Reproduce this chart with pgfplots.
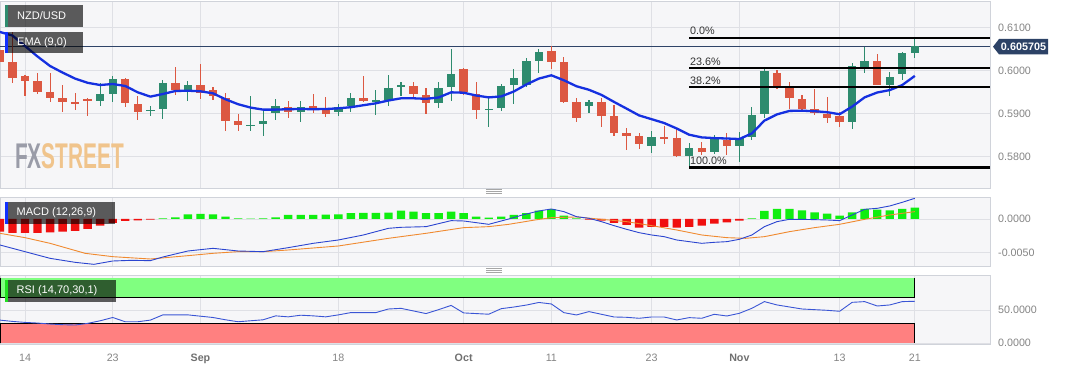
\documentclass[border=0pt]{standalone}
\usepackage{fontspec}
\setmainfont{Liberation Sans}
\usepackage{pgfplots}
\usepackage{pgfplotstable}
\pgfplotsset{compat=1.18}

\definecolor{panelbg}{HTML}{F6F6F8}
\definecolor{gridc}{HTML}{DFE0E5}
\definecolor{borderc}{HTML}{D0D3DA}
\definecolor{labelc}{HTML}{858585}
\definecolor{boldlab}{HTML}{707070}
\definecolor{cgreen}{HTML}{2E8B6E}
\definecolor{cred}{HTML}{DC5842}
\definecolor{emablue}{HTML}{1530E0}
\definecolor{pricec}{HTML}{2F4468}
\definecolor{tagc}{HTML}{2C4266}
\definecolor{hgreen}{HTML}{10EE10}
\definecolor{hred}{HTML}{F01010}
\definecolor{macdc}{HTML}{2B45D0}
\definecolor{sigc}{HTML}{F08A30}
\definecolor{rsic}{HTML}{3A55D5}
\definecolor{obc}{HTML}{80FF80}
\definecolor{osc}{HTML}{FF8080}
\definecolor{fxgray}{HTML}{9A9CA8}
\definecolor{fxorange}{HTML}{F0C48C}
\definecolor{fibtext}{HTML}{333333}
\definecolor{stripblue}{HTML}{1030FF}
\definecolor{striprsi}{HTML}{20E020}

% red candles: i open high low close
\pgfplotstableread{
i o h l c
-2 0.60481 0.61179 0.60109 0.60202
-1 0.60202 0.60900 0.59714 0.59830
0 0.59877 0.59900 0.59418 0.59760
1 0.59760 0.59953 0.59458 0.59511
2 0.59511 0.59939 0.59279 0.59372
3 0.59365 0.59667 0.59046 0.59272
4 0.59272 0.59488 0.59086 0.59225
5 0.59342 0.59358 0.58946 0.59295
8 0.59800 0.59823 0.59163 0.59242
9 0.59225 0.59418 0.58853 0.59046
12 0.59721 0.60079 0.59428 0.59551
14 0.59667 0.60167 0.59342 0.59474
15 0.59551 0.59614 0.59318 0.59411
16 0.59372 0.59488 0.58598 0.58837
17 0.58830 0.58986 0.58598 0.58730
21 0.59163 0.59302 0.58893 0.59046
23 0.59179 0.59451 0.59009 0.59086
24 0.59109 0.59381 0.58916 0.58986
27 0.59358 0.59877 0.59279 0.59295
31 0.59651 0.59744 0.59395 0.59458
32 0.59435 0.59591 0.58986 0.59242
35 0.60032 0.60070 0.59435 0.59511
36 0.59451 0.59744 0.58870 0.59086
42 0.60458 0.60574 0.60039 0.60209
43 0.60195 0.60325 0.59242 0.59279
44 0.59272 0.59358 0.58814 0.58893
46 0.59279 0.59358 0.58698 0.58953
47 0.58946 0.59202 0.58481 0.58558
48 0.58544 0.58674 0.58156 0.58488
49 0.58481 0.58558 0.58172 0.58295
51 0.58451 0.58714 0.58288 0.58428
52 0.58428 0.58637 0.58005 0.58016
54 0.58209 0.58349 0.58039 0.58102
56 0.58388 0.58544 0.58039 0.58249
60 0.59939 0.60016 0.59567 0.59628
61 0.59591 0.59744 0.59109 0.59358
62 0.59335 0.59435 0.59070 0.59102
63 0.59102 0.59567 0.58970 0.59009
64 0.58986 0.59381 0.58777 0.58893
65 0.58946 0.59046 0.58698 0.58814
68 0.60225 0.60388 0.59660 0.59667
}\redc

% green candles: i open high low close
\pgfplotstableread{
i o h l c
6 0.59302 0.59707 0.59179 0.59458
7 0.59458 0.59877 0.59272 0.59800
10 0.59074 0.59179 0.58946 0.59098
11 0.59102 0.59784 0.58870 0.59707
13 0.59551 0.59767 0.59302 0.59667
18 0.58725 0.59411 0.58605 0.58744
19 0.58753 0.59063 0.58481 0.58837
20 0.59009 0.59342 0.58853 0.59179
22 0.59046 0.59295 0.58800 0.59163
25 0.59046 0.59218 0.58946 0.59163
26 0.59179 0.59474 0.59046 0.59358
28 0.59295 0.59551 0.58970 0.59311
29 0.59318 0.59900 0.59186 0.59605
30 0.59628 0.59744 0.59411 0.59660
33 0.59242 0.59730 0.59125 0.59605
34 0.59614 0.60498 0.59302 0.59923
37 0.59102 0.59358 0.58698 0.59116
38 0.59125 0.59691 0.59063 0.59651
39 0.59667 0.60032 0.59225 0.59837
40 0.59667 0.60288 0.59628 0.60225
41 0.60225 0.60498 0.59939 0.60442
45 0.59186 0.59318 0.59009 0.59265
50 0.58249 0.58598 0.58079 0.58451
53 0.58016 0.58311 0.57750 0.58195
55 0.58116 0.58505 0.58063 0.58405
57 0.58249 0.58581 0.57870 0.58428
58 0.58451 0.59163 0.58388 0.58977
59 0.58993 0.60032 0.58900 0.59993
66 0.58814 0.60172 0.58637 0.60109
67 0.60093 0.60558 0.59953 0.60225
69 0.59667 0.59977 0.59411 0.59860
70 0.59916 0.60442 0.59784 0.60405
71 0.60405 0.60767 0.60288 0.60571
}\greenc

\pgfplotstableread{
i ema
-2 0.60900
-1 0.60818
0 0.60574
1 0.60330
2 0.60109
3 0.59956
4 0.59816
5 0.59718
6 0.59667
7 0.59691
8 0.59644
9 0.59497
10 0.59397
11 0.59458
12 0.59528
13 0.59535
14 0.59521
15 0.59474
16 0.59335
17 0.59221
18 0.59142
19 0.59095
20 0.59095
21 0.59105
22 0.59109
23 0.59105
24 0.59109
25 0.59125
26 0.59151
27 0.59197
28 0.59242
29 0.59307
30 0.59358
31 0.59358
32 0.59346
33 0.59377
34 0.59497
35 0.59488
36 0.59423
37 0.59379
38 0.59402
39 0.59516
40 0.59679
41 0.59816
42 0.59893
43 0.59777
44 0.59639
45 0.59556
46 0.59437
47 0.59274
48 0.59118
49 0.58960
50 0.58872
51 0.58783
52 0.58656
53 0.58511
54 0.58449
55 0.58432
56 0.58423
57 0.58411
58 0.58542
59 0.58839
60 0.58984
61 0.59065
62 0.59070
63 0.59058
64 0.59035
65 0.58988
66 0.59165
67 0.59381
68 0.59493
69 0.59549
70 0.59667
71 0.59879
}\emat

\pgfplotstableread{
i v
-2 -0.0019
-1 -0.0021
0 -0.0021
1 -0.0021
2 -0.0020
3 -0.0019
4 -0.0018
5 -0.0015
6 -0.0010
7 -0.0006
8 -0.0003
9 -0.0002
10 -0.0001
45 -0.0001
46 -0.00025
47 -0.0006
48 -0.0009
49 -0.0013
50 -0.0012
51 -0.0012
52 -0.0013
53 -0.0012
54 -0.0010
55 -0.0007
56 -0.0005
57 -0.00025
}\histneg

\pgfplotstableread{
i v
11 0.0001
12 0.00025
13 0.0007
14 0.00076
15 0.0007
16 0.00035
17 0.0001
18 0.00005
19 0.0001
20 0.00025
21 0.0006
22 0.0006
23 0.0006
24 0.00066
25 0.0007
26 0.00086
27 0.0009
28 0.0009
29 0.00096
30 0.00126
31 0.0011
32 0.00086
33 0.00086
34 0.0011
35 0.00086
36 0.00035
37 0.0002
38 0.00035
39 0.0006
40 0.00086
41 0.00126
42 0.00146
43 0.0005
44 0.0001
58 0.0001
59 0.0012
60 0.0015
61 0.0015
62 0.0013
63 0.0010
64 0.0008
65 0.0005
66 0.0010
67 0.0015
68 0.0014
69 0.0013
70 0.0015
71 0.0017
}\histpos

\pgfplotstableread{
i v
-2 -0.0039
0 -0.0049
2 -0.0059
4 -0.0065
5.5 -0.0068
7 -0.0063
8.5 -0.0062
10 -0.00625
11 -0.0057
13 -0.0048
15 -0.0044
17 -0.0048
19 -0.0049
21 -0.0043
23 -0.00365
25 -0.00315
27 -0.0024
29 -0.0014
30 -0.00125
32 -0.00115
34 -0.00025
35 -0.0003
37 -0.0008
38.6 0.0
39.7 0.0006
41 0.0012
42 0.0015
43 0.0011
44 0.00035
45 0.0001
46 -0.0004
47 -0.001
48 -0.00155
49 -0.00205
50 -0.0024
51 -0.00265
52 -0.00315
53 -0.0034
54 -0.00365
55 -0.0035
56 -0.0034
57 -0.00305
58 -0.0024
59 -0.00115
60 -0.0004
61 -0.00005
62 -0.00005
63 -0.0001
64 -0.00015
65 -0.00025
66 0.0006
67 0.00145
68 0.0016
69 0.00195
70 0.0025
71 0.0031
}\macdt

\pgfplotstableread{
i v
-2 -0.00215
0 -0.0028
2 -0.00365
4.8 -0.00515
7 -0.00565
10 -0.0060
13 -0.0055
15 -0.00515
17 -0.0049
19 -0.0049
21 -0.00465
25 -0.00405
29 -0.0029
32 -0.00215
35 -0.0013
37 -0.00115
38.6 -0.0008
40.7 -0.00015
42 0.0002
44 0.0003
46 -0.00005
48 -0.0004
50 -0.0010
52 -0.00165
54 -0.0024
56 -0.0028
57.5 -0.0029
59 -0.00265
61 -0.0019
63 -0.0013
65 -0.0008
67 -0.00005
69 0.0006
71 0.0011
}\sigt

\pgfplotstableread{
i v
-2 35
-1 33
0 31.5
1 30.5
2 29
3 28
4 27.5
5 30
6 34
7 39
8 32.5
9 32.5
10 35
11 43
12 43
13 43
14 41
15 39
16 35.5
17 32.5
18 34
19 35.5
20 41.5
21 40
22 42.5
23 41.5
24 40
25 43
26 46.5
27 46.5
28 46.5
29 52
30 53
31 49
32 45
33 51
34 57.5
35 46
36 45
37 44
38 52.5
39 55
40 58
41 62
42 59.7
43 46.4
44 42.9
45 48
46 43.9
47 39.8
48 39.3
49 37.8
50 39.8
51 39.8
52 35.2
53 38.8
54 37.8
55 43.9
56 41.3
57 45.4
58 53.1
59 63.3
60 58.2
61 55.1
62 52
63 51
64 50
65 48.5
66 62.2
67 63.3
68 56.6
69 58.2
70 63.3
71 63.8
}\rsit

\pgfplotsset{panel/.style={
  scale only axis, width=990pt, xmin=-1.995, xmax=77,
  axis background/.style={fill=panelbg},
  axis line style={draw=borderc, line width=0.8pt},
  xtick={0,7,14,25,35,42,50,57,65,71},
  xmajorgrids, ymajorgrids,
  major grid style={draw=gridc, line width=0.8pt},
  major tick length=0pt,
  ytick pos=right, yticklabel pos=right,
  yticklabel style={anchor=west, inner sep=0pt, xshift=8pt, font=\fontsize{10.7}{12}\selectfont, text=labelc},
  scaled y ticks=false,
  xticklabels={},
}}

\newcommand{\candles}[2]{%
  \addplot[draw=none, mark=none, forget plot, error bars/.cd, y dir=both, y explicit, error mark=none,
    error bar style={line width=1.1pt, draw=#2, solid}]
    table[x=i, y expr={(\thisrow{h}+\thisrow{l})/2}, y error expr={(\thisrow{h}-\thisrow{l})/2}] {#1};
  \addplot[draw=none, mark=none, forget plot, error bars/.cd, y dir=both, y explicit, error mark=none,
    error bar style={line width=8.4pt, draw=#2, solid}]
    table[x=i, y expr={(\thisrow{o}+\thisrow{c})/2}, y error expr={max(abs(\thisrow{o}-\thisrow{c})/2,0.00012)}] {#1};
}

\begin{document}
\begin{tikzpicture}
\fill[white] (0pt,0pt) rectangle (1067pt,370pt);
\useasboundingbox (0pt,0pt) rectangle (1067pt,370pt);

% ---------------- price panel ----------------
\begin{axis}[panel, at={(0pt,181.7pt)}, anchor=south west, height=187.3pt,
  ymin=0.57265, ymax=0.61621, ytick={0.58,0.59,0.60,0.61},
  yticklabels={0.5800,0.5900,0.6000,0.6100}]
  \node[anchor=base west, inner sep=0pt] at (axis cs:-0.8,0.57737)
    {\scalebox{0.584}[1]{\fontsize{35.7}{36}\selectfont\bfseries\color{fxgray}FX\color{fxorange}STREET}};
  \addplot[pricec, line width=0.9pt] coordinates {(-2,0.605705) (77,0.605705)};
  \candles{\redc}{cred}
  \candles{\greenc}{cgreen}
  \addplot[emablue, line width=2.3pt, line join=round] table[x=i, y=ema] {\emat};
  \addplot[black, line width=2.3pt] coordinates {(53,0.60767) (77,0.60767)};
  \addplot[black, line width=2.3pt] coordinates {(53,0.60055) (77,0.60055)};
  \addplot[black, line width=2.3pt] coordinates {(53,0.59615) (77,0.59615)};
  \addplot[black, line width=2.3pt] coordinates {(53,0.57751) (77,0.57751)};
  \node[anchor=base west, inner sep=0pt, text=fibtext, font=\fontsize{10.8}{12}\selectfont, yshift=3pt] at (axis cs:53.05,0.60767) {0.0\%};
  \node[anchor=base west, inner sep=0pt, text=fibtext, font=\fontsize{10.8}{12}\selectfont, yshift=3pt] at (axis cs:53.05,0.60055) {23.6\%};
  \node[anchor=base west, inner sep=0pt, text=fibtext, font=\fontsize{10.8}{12}\selectfont, yshift=3pt] at (axis cs:53.05,0.59615) {38.2\%};
  \node[anchor=base west, inner sep=0pt, text=fibtext, font=\fontsize{10.8}{12}\selectfont, yshift=3pt] at (axis cs:53.05,0.57751) {100.0\%};
\end{axis}

% ---------------- MACD panel ----------------
\begin{axis}[panel, at={(0pt,104pt)}, anchor=south west, height=68.7pt,
  ymin=-0.00705, ymax=0.00325, ytick={-0.005,0}, yticklabels={-0.0050,0.0000}]
  \addplot[ybar, bar width=8.4pt, bar shift=0pt, fill=hred, draw=none] table[x=i,y=v] {\histneg};
  \addplot[ybar, bar width=8.4pt, bar shift=0pt, fill=hgreen, draw=none] table[x=i,y=v] {\histpos};
  \addplot[sigc, line width=0.9pt] table[x=i,y=v] {\sigt};
  \addplot[macdc, line width=0.9pt] table[x=i,y=v] {\macdt};
\end{axis}

% ---------------- RSI panel ----------------
\begin{axis}[panel, at={(0pt,25.7pt)}, anchor=south west, height=69.3pt,
  ymin=-2, ymax=104, ytick={0,50}, yticklabels={0.0000,50.0000},
  xticklabels={14,23,\textbf{\color{boldlab}Sep},18,\textbf{\color{boldlab}Oct},11,23,\textbf{\color{boldlab}Nov},13,21},
  xticklabel style={anchor=base, yshift=-17pt, font=\fontsize{10.7}{12}\selectfont, text=labelc}]
  \fill[obc] (axis cs:-2,70) rectangle (axis cs:71,100);
  \fill[osc] (axis cs:-2,-0.5) rectangle (axis cs:71,30);
  \draw[black, line width=0.9pt] (axis cs:-1.99,100) -- (axis cs:-1.99,70) -- (axis cs:71,70) -- (axis cs:71,100);
  \draw[black, line width=0.9pt] (axis cs:-1.99,-0.5) -- (axis cs:-1.99,30) -- (axis cs:71,30) -- (axis cs:71,-0.5);
  \addplot[rsic, line width=0.9pt] table[x=i,y=v] {\rsit};
\end{axis}

% ---------------- overlays ----------------
% price tag
\fill[tagc] (993pt,323.3pt) -- (999pt,331pt) -- (1048pt,331pt) -- (1048pt,315.6pt) -- (999pt,315.6pt) -- cycle;
\node[text=white, font=\fontsize{10.8}{12}\selectfont\bfseries, inner sep=0pt] at (1023.5pt,323.3pt) {0.605705};

% legend boxes
\fill[black, fill opacity=0.63] (5pt,343pt) rectangle (83pt,365pt);
\fill[cgreen] (5pt,343pt) rectangle (7.5pt,365pt);
\node[anchor=west, text=white, font=\fontsize{11}{12}\selectfont, inner sep=0pt] at (17pt,354pt) {NZD/USD};

\fill[black, fill opacity=0.63] (5pt,316.7pt) rectangle (83pt,337.7pt);
\fill[stripblue] (5pt,316.7pt) rectangle (7.5pt,337.7pt);
\node[anchor=west, text=white, font=\fontsize{11}{12}\selectfont, inner sep=0pt] at (17pt,327.2pt) {EMA (9,0)};

\fill[black, fill opacity=0.63] (5pt,146pt) rectangle (115pt,168.3pt);
\fill[stripblue] (5pt,146pt) rectangle (7.5pt,168.3pt);
\node[anchor=west, text=white, font=\fontsize{11}{12}\selectfont, inner sep=0pt] at (16.5pt,157.1pt) {MACD (12,26,9)};

\fill[black, fill opacity=0.63] (5pt,68.3pt) rectangle (116pt,90pt);
\fill[striprsi] (5pt,68.3pt) rectangle (7.5pt,90pt);
\node[anchor=west, text=white, font=\fontsize{11}{12}\selectfont, inner sep=0pt] at (16.5pt,79.1pt) {RSI (14,70,30,1)};

% panel handles
\foreach \yy in {176.5,178.5,180.5} {\draw[gray!70, line width=0.6pt] (486pt,\yy pt) -- (502pt,\yy pt);}
\foreach \yy in {97.5,99.5,101.5} {\draw[gray!70, line width=0.6pt] (486pt,\yy pt) -- (502pt,\yy pt);}
\end{tikzpicture}
\end{document}
